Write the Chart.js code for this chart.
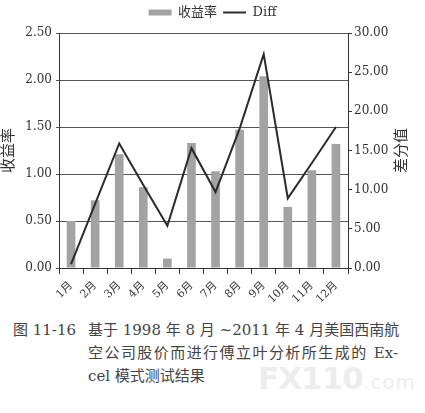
<!DOCTYPE html>
<html lang="zh">
<head>
  <meta charset="UTF-8" />
  <title>图 11-16</title>
  <script src="https://cdn.jsdelivr.net/npm/chart.js@4.4.1/dist/chart.umd.min.js"></script>
  <style>
    body { margin: 0; background: #fff; }
    #wrap { position: relative; width: 425px; height: 413px; overflow: hidden; }
    #chartBox { position: absolute; left: 0; top: 0; width: 425px; height: 305px; }
    .cap { position: absolute; font-family: "DejaVu Serif", "Noto Sans CJK SC"; font-size: 15px; color: #444; white-space: nowrap; }
    .just { width: 310px; text-align: justify; text-align-last: justify; }
    #mark { position: absolute; left: 258px; top: 360px; font-family: 'DejaVu Sans', sans-serif; font-weight: bold; font-size: 31px; color: #ededed; letter-spacing: -1px; }
    #mark span { font-size: 20px; font-weight: normal; letter-spacing: 1px; }
  </style>
</head>
<body>
  <div id="wrap">
    <div id="mark">FX110<span>.com</span></div>
    <div id="chartBox"><canvas id="myChart" width="425" height="305"></canvas></div>
    <div class="cap" style="left:13px; top:318px;">图 11-16</div>
    <div class="cap just" style="left:88px; top:318px;">基于 1998 年 8 月 ~2011 年 4 月美国西南航</div>
    <div class="cap just" style="left:88px; top:341px;">空公司股价而进行傅立叶分析所生成的 Ex-</div>
    <div class="cap" style="left:88px; top:364px;">cel 模式测试结果</div>
  </div>

  <script>
    // values
    const months = ['1月', '2月', '3月', '4月', '5月', '6月', '7月', '8月', '9月', '10月', '11月', '12月'];
    const returns = [0.50, 0.72, 1.21, 0.86, 0.10, 1.33, 1.03, 1.47, 2.04, 0.65, 1.04, 1.32];
    const diff = [0.5, 8.2, 15.9, 10.6, 5.4, 15.3, 9.7, 17.8, 27.3, 8.9, 13.4, 18.0];
    const leftTitle = '收益率';
    const rightTitle = '差分值';

    const serif = '"DejaVu Serif", "Noto Sans CJK SC", serif';
    const ink = '#333';

    // fixed plot box like the original (x 59..348, y 33..268)
    const fixLegend = {
      id: 'fixLegend',
      afterInit(chart) {
        const fit = chart.legend.fit;
        chart.legend.fit = function () { fit.call(this); this.height = 33; };
      }
    };

    // right axis title reads bottom-to-top, as in Excel
    const rightTitlePlugin = {
      id: 'rightTitle',
      afterDraw(chart) {
        const a = chart.chartArea;
        const ctx = chart.ctx;
        ctx.save();
        ctx.translate(402, (a.top + a.bottom) / 2);
        ctx.rotate(-Math.PI / 2);
        ctx.font = '15px ' + serif;
        ctx.fillStyle = ink;
        ctx.textAlign = 'center';
        ctx.textBaseline = 'middle';
        ctx.fillText(rightTitle, 0, 0);
        ctx.restore();
      }
    };

    function drawChart() {
      const ctx = document.getElementById('myChart').getContext('2d');
      new Chart(ctx, {
        data: {
          labels: months,
          datasets: [{
            type: 'bar',
            label: '收益率',
            data: returns,
            yAxisID: 'y',
            backgroundColor: '#a3a3a3',
            borderWidth: 0,
            barPercentage: 0.36,
            categoryPercentage: 1,
            pointStyle: 'rect',
            order: 2
          }, {
            type: 'line',
            label: 'Diff',
            data: diff,
            yAxisID: 'y2',
            borderColor: '#2b2b2b',
            backgroundColor: '#2b2b2b',
            borderWidth: 2,
            pointRadius: 0,
            tension: 0,
            pointStyle: 'line',
            order: 1
          }]
        },
        options: {
          responsive: false,
          animation: false,
          layout: { padding: 0 },
          plugins: {
            legend: {
              position: 'top',
              labels: {
                usePointStyle: true,
                pointStyleWidth: 23,
                boxHeight: 6,
                padding: 6,
                color: ink,
                font: { family: serif, size: 13 },
                sort: (a, b) => a.datasetIndex - b.datasetIndex
              }
            },
            tooltip: { enabled: false }
          },
          scales: {
            x: {
              grid: { display: true, drawOnChartArea: false, offset: true, tickLength: 6, color: ink },
              border: { color: ink, width: 1 },
              ticks: { color: ink, font: { family: serif, size: 11 }, minRotation: 45, maxRotation: 45, padding: 5, autoSkip: false },
              afterFit(scale) { scale.height = 305 - 268; }
            },
            y: {
              position: 'left',
              min: 0, max: 2.5,
              ticks: { stepSize: 0.5, color: ink, font: { family: serif, size: 12 }, padding: 4,
                callback: v => v.toFixed(2) },
              grid: { color: '#555', lineWidth: 1, tickLength: 3 },
              border: { color: ink },
              title: { display: true, text: leftTitle, color: ink, font: { family: serif, size: 15 }, padding: 0 },
              afterFit(scale) { scale.width = 59; }
            },
            y2: {
              position: 'right',
              min: 0, max: 30,
              ticks: { stepSize: 5, color: ink, font: { family: serif, size: 12 }, padding: 2,
                callback: v => v.toFixed(2) },
              grid: { drawOnChartArea: false, color: ink, tickLength: 4 },
              border: { color: ink },
              afterFit(scale) { scale.width = 425 - 348; }
            }
          }
        },
        plugins: [fixLegend, rightTitlePlugin]
      });
    }

    // make sure the faces are ready before the canvas paints
    Promise.all([
      document.fonts.load('13px "DejaVu Serif"', '2.50 Diff'),
      document.fonts.load('15px "Noto Sans CJK SC"', '收益率')
    ]).catch(() => {}).then(drawChart);
  </script>
</body>
</html>
